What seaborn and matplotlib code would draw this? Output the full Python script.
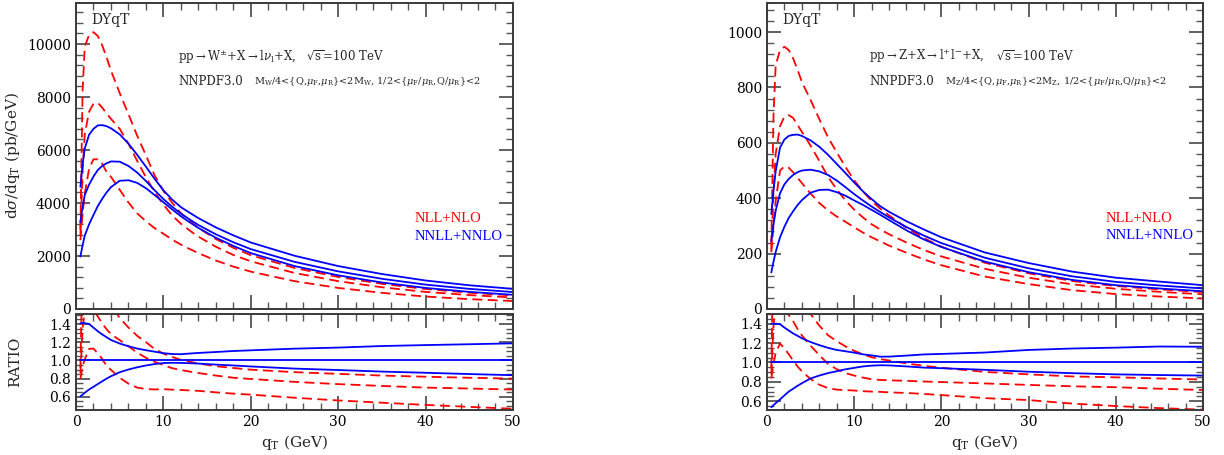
import numpy as np
import matplotlib
matplotlib.use("Agg")
from matplotlib import pyplot as plt
from matplotlib.ticker import MultipleLocator, FormatStrFormatter
import seaborn as sns

# transverse momentum grid (GeV)
qt = [0.5, 0.75, 1, 1.5, 2, 2.5, 3, 3.5, 4, 5, 6, 7, 8, 9, 10, 11, 12, 13, 14,
      16, 18, 20, 25, 30, 35, 40, 45, 50]

# W: NNLL+NNLO (central, upper, lower) in pb/GeV
w_nnll_c = [3270, 3850, 4300, 4700, 5000, 5250, 5400, 5500, 5570, 5560, 5400, 5150, 4830, 4480,
            4150, 3860, 3600, 3380, 3170, 2820, 2520, 2260, 1780, 1420, 1140, 920, 760, 640]
w_nnll_hi = [4610, 5430, 6060, 6580, 6800, 6930, 6940, 6900, 6820, 6590, 6240, 5820, 5370, 4910,
             4480, 4130, 3845, 3635, 3430, 3080, 2780, 2510, 2010, 1620, 1320, 1075, 895, 760]
w_nnll_lo = [1980, 2400, 2770, 3200, 3550, 3890, 4160, 4400, 4600, 4840, 4860, 4760, 4560, 4300,
             4030, 3760, 3500, 3275, 3060, 2690, 2380, 2110, 1620, 1270, 1000, 795, 646, 536]
# W: NLL+NLO (three scale choices)
w_nll_a = [3000, 8200, 9900, 10350, 10450, 10300, 9950, 9500, 9000, 8150, 7350, 6540, 5800, 5040,
           4460, 4010, 3620, 3330, 3060, 2640, 2310, 2030, 1550, 1210, 950, 755, 615, 512]
w_nll_b = [2800, 5200, 6600, 7450, 7750, 7780, 7600, 7380, 7180, 6800, 6240, 5590, 4970, 4410,
           3940, 3530, 3220, 2965, 2730, 2350, 2040, 1800, 1360, 1050, 820, 645, 525, 435]
w_nll_c = [2600, 3600, 4350, 5300, 5650, 5650, 5480, 5170, 4990, 4500, 4020, 3610, 3310, 3050,
           2840, 2620, 2430, 2265, 2110, 1830, 1600, 1410, 1050, 795, 610, 470, 372, 300]

# Z: NNLL+NNLO
z_nnll_c = [245, 305, 355, 418, 450, 470, 484, 494, 500, 503, 497, 484, 464, 440,
            415, 392, 370, 350, 331, 296, 265, 238, 185, 147, 118, 98, 85, 74]
z_nnll_hi = [343, 427, 497, 583, 612, 625, 629, 630, 625, 609, 586, 557, 524, 491,
             457, 425, 397, 371, 351, 317, 287, 259, 204, 166, 135, 113, 99, 86]
z_nnll_lo = [132, 171, 206, 259, 297, 329, 353, 375, 393, 420, 430, 431, 422, 409,
             392, 376, 358, 340, 321, 284, 251, 224, 171, 133, 105, 86, 74, 64]
# Z: NLL+NLO
z_nll_a = [230, 700, 880, 935, 947, 935, 905, 865, 820, 755, 686, 620, 566, 513,
           465, 425, 390, 362, 338, 293, 256, 225, 167, 129, 101, 83, 71, 61]
z_nll_b = [215, 420, 560, 660, 695, 700, 690, 665, 640, 590, 535, 477, 432, 392,
           359, 331, 306, 287, 270, 240, 213, 190, 145, 113, 89, 73, 62, 53]
z_nll_c = [205, 300, 390, 500, 515, 510, 494, 474, 455, 417, 383, 356, 334, 315,
           295, 276, 259, 244, 229, 203, 179, 158, 117, 90, 68, 54, 45, 38]

RED = "#ff0000"
BLUE = "#0000ff"
FRAME = "#3a3a3a"

sns.set_style("ticks")
plt.rcParams["font.family"] = ["DejaVu Serif"]
plt.rcParams["mathtext.fontset"] = "dejavuserif"


def style_axis(ax):
    for sp in ax.spines.values():
        sp.set_color(FRAME)
        sp.set_linewidth(1.4)
    ax.tick_params(which="both", direction="in", top=True, right=True,
                   color="#555555", labelsize=10, labelcolor="black")
    ax.tick_params(which="major", length=10, width=1.3)
    ax.tick_params(which="minor", length=5, width=1.0)


def draw_panel(ax, axr, central, hi, lo, nll, ymax, ymajor, rlim):
    x = np.array(qt)
    c = np.array(central, dtype=float)
    for curve in nll:
        sns.lineplot(x=x, y=curve, ax=ax, color=RED, lw=1.3,
                     linestyle=(0, (5.5, 3)), errorbar=None)
        sns.lineplot(x=x, y=np.array(curve) / c, ax=axr, color=RED, lw=1.3,
                     linestyle=(0, (5.5, 3)), errorbar=None)
    for curve in (hi, central, lo):
        sns.lineplot(x=x, y=curve, ax=ax, color=BLUE, lw=1.3, errorbar=None)
        sns.lineplot(x=x, y=np.array(curve) / c, ax=axr, color=BLUE, lw=1.3,
                     errorbar=None)

    ax.set_xlim(0, 50)
    ax.set_ylim(0, ymax)
    ax.yaxis.set_major_locator(MultipleLocator(ymajor))
    ax.yaxis.set_minor_locator(MultipleLocator(ymajor / 5))
    ax.xaxis.set_major_locator(MultipleLocator(10))
    ax.xaxis.set_minor_locator(MultipleLocator(2))
    ax.tick_params(labelbottom=False)
    style_axis(ax)

    axr.set_xlim(0, 50)
    axr.set_ylim(*rlim)
    axr.set_yticks([0.6, 0.8, 1.0, 1.2, 1.4])
    axr.yaxis.set_major_formatter(FormatStrFormatter("%.1f"))
    axr.yaxis.set_minor_locator(MultipleLocator(0.05))
    axr.xaxis.set_major_locator(MultipleLocator(10))
    axr.xaxis.set_minor_locator(MultipleLocator(2))
    style_axis(axr)
    axr.set_xlabel(r"q$_{\rm T}$ (GeV)", fontsize=11, labelpad=3)
    axr.set_ylabel("")
    ax.set_xlabel("")
    ax.set_ylabel("")


fig = plt.figure(figsize=(12.24, 4.55), dpi=100)
axW = fig.add_axes([0.0621, 0.3209, 0.3570, 0.6725])
axWr = fig.add_axes([0.0621, 0.0989, 0.3570, 0.2110])
axZ = fig.add_axes([0.6266, 0.3209, 0.3562, 0.6725])
axZr = fig.add_axes([0.6266, 0.0989, 0.3562, 0.2110])

draw_panel(axW, axWr, w_nnll_c, w_nnll_hi, w_nnll_lo, [w_nll_a, w_nll_b, w_nll_c],
           11550, 2000, (0.455, 1.51))
draw_panel(axZ, axZr, z_nnll_c, z_nnll_hi, z_nnll_lo, [z_nll_a, z_nll_b, z_nll_c],
           1105, 200, (0.51, 1.50))

axW.set_ylabel(r"d$\sigma$/dq$_{\rm T}$ (pb/GeV)", fontsize=11)
axW.yaxis.set_label_coords(-0.123, 0.5)
axWr.set_ylabel("RATIO", fontsize=11)
axWr.yaxis.set_label_coords(-0.123, 0.5)

texts = [
    (axW, r"pp$\rightarrow$W$^{\pm}$+X$\rightarrow$l$\nu_{\rm l}$+X,", "M$_{\\rm W}$",
     10900, 9520, 8600, 3430, 2750),
    (axZ, r"pp$\rightarrow$Z+X$\rightarrow$l$^{+}$l$^{-}$+X,", "M$_{\\rm Z}$",
     1043, 913, 823, 328, 264),
]
for ax, proc, mass, y_dy, y_proc, y_pdf, y_nll, y_nnll in texts:
    ax.text(1.8, y_dy, "DYqT", fontsize=10, va="center")
    ax.text(11.7, y_proc, proc, fontsize=8.5, va="center")
    ax.text(26.3, y_proc, r"$\sqrt{\rm s}$=100 TeV", fontsize=8.5, va="center")
    ax.text(11.7, y_pdf, "NNPDF3.0", fontsize=8.5, va="center")
    ax.text(20.4, y_pdf,
            mass + r"/4<{Q,$\mu_{\rm F}$,$\mu_{\rm R}$}<2" + mass
            + r", 1/2<{$\mu_{\rm F}$/$\mu_{\rm R}$,Q/$\mu_{\rm R}$}<2",
            fontsize=7, va="center")
    ax.text(38.8, y_nll, "NLL+NLO", color=RED, fontsize=10.5, va="center",
            family="Liberation Serif")
    ax.text(38.8, y_nnll, "NNLL+NNLO", color=BLUE, fontsize=10.5, va="center",
            family="Liberation Serif")

fig.savefig("out.png", dpi=100)
